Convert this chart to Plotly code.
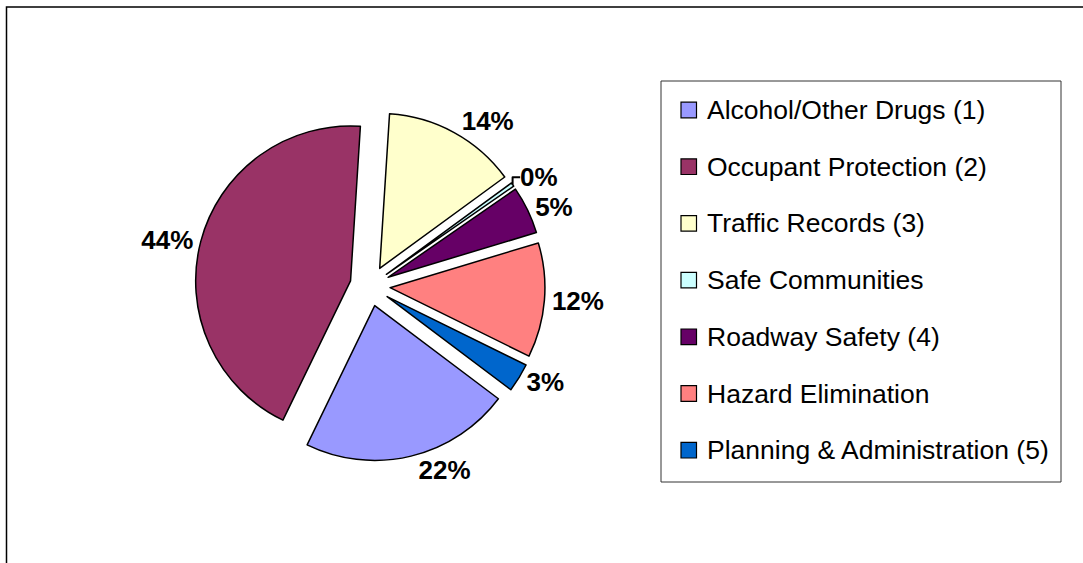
import plotly.graph_objects as go

# ---- data ----
labels = [
    "Alcohol/Other Drugs (1)",
    "Occupant Protection (2)",
    "Traffic Records (3)",
    "Safe Communities",
    "Roadway Safety (4)",
    "Hazard Elimination",
    "Planning & Administration (5)",
]
values = [22, 44, 14, 0.4, 5, 12, 3]
colors = ["#9999FF", "#993366", "#FFFFCC", "#CCFFFF", "#660066", "#FF8080", "#0066CC"]

W, H = 1083, 563
FONT = "Liberation Sans, Arial, sans-serif"


def px(x):
    return x / W


def py(y):
    return 1 - y / H


fig = go.Figure()
fig.add_trace(go.Pie(
    labels=labels,
    values=values,
    sort=False,
    direction="clockwise",
    rotation=127,
    pull=[0.13] * len(values),
    marker=dict(colors=colors, line=dict(color="black", width=1.5)),
    texttemplate="%{percent:.0%}",
    textposition="outside",
    textfont=dict(family=FONT, size=26, color="black", weight="bold"),
    domain=dict(x=[px(195), px(545)], y=[py(461), py(111)]),
    showlegend=False,
    hoverinfo="label+percent",
))

shapes = []
annotations = []
# chart area border (cropped at right and bottom)
shapes.append(dict(type="rect", xref="paper", yref="paper",
                   x0=px(6.5), x1=1.05, y0=-0.05, y1=py(7),
                   line=dict(color="black", width=1.5), fillcolor="rgba(0,0,0,0)"))
# legend box
shapes.append(dict(type="rect", xref="paper", yref="paper",
                   x0=px(661), x1=px(1061), y0=py(482), y1=py(81),
                   line=dict(color="#333333", width=1), fillcolor="white", layer="below"))
row0, step = 110, 56.7
for i, (lab, col) in enumerate(zip(labels, colors)):
    cy = row0 + i * step
    shapes.append(dict(type="rect", xref="paper", yref="paper",
                       x0=px(681), x1=px(696.5), y0=py(cy + 7.8), y1=py(cy - 7.8),
                       line=dict(color="black", width=1.2), fillcolor=col))
    annotations.append(dict(xref="paper", yref="paper", x=px(705), y=py(cy),
                            xanchor="left", yanchor="middle", showarrow=False,
                            text=lab, font=dict(family=FONT, size=26.5, color="black")))

fig.update_layout(
    width=W, height=H,
    margin=dict(l=0, r=0, t=0, b=0),
    paper_bgcolor="white",
    plot_bgcolor="white",
    shapes=shapes,
    annotations=annotations,
    showlegend=False,
)

fig.write_html("out.html", config={"displayModeBar": False},
               post_script="document.body.style.margin='0';")
